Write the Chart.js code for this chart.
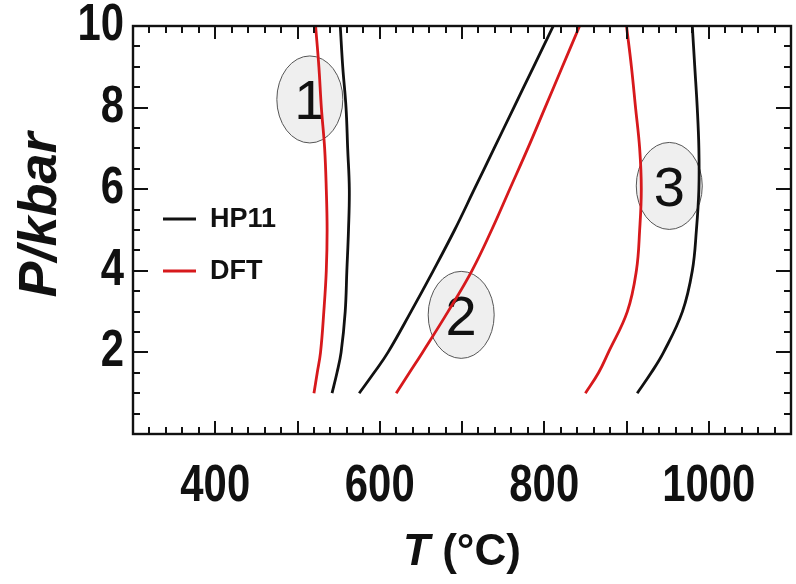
<!DOCTYPE html>
<html>
<head>
<meta charset="utf-8">
<script src="https://cdn.jsdelivr.net/npm/chart.js@4.4.0/dist/chart.umd.min.js"></script>
<style>
  body { margin: 0; background: #fff; }
  canvas { display: block; }
</style>
</head>
<body>
<canvas id="myChart" width="796" height="584"></canvas>
<script>
// pressure (kbar) at which each curve was read
const pressures = [1, 1.5, 2, 3, 4, 5, 6, 7, 8, 9, 10];

// temperature (°C) of each reaction curve
const hp11_1 = [542, 548, 553, 558, 560, 562, 563, 561, 559, 555, 552];
const dft_1 = [520, 524, 528, 532, 535, 536, 535, 533, 529, 526, 522];
const hp11_2 = [575, 593, 610, 638, 665, 691, 715, 739, 763, 787, 811];
const dft_2 = [620, 636, 652, 683, 712, 736, 758, 780, 801, 822, 843];
const hp11_3 = [913, 930, 945, 968, 980, 985, 988, 988, 986, 983, 980];
const dft_3 = [850, 866, 878, 901, 912, 916, 918, 916, 911, 906, 900];

const xTickLabels = [400, 600, 800, 1000];
const yTickLabels = [2, 4, 6, 8, 10];

// numbered reaction labels (T, P)
const markerNames = ['1', '2', '3'];
const markerT = [515, 699, 952];
const markerP = [8.2, 2.92, 6.08];

const SANS = '"Liberation Sans", Arial, sans-serif';
const RED = '#d7191c';
const INK = '#111';

function pts(temps) {
    return temps.map((t, i) => ({ x: t, y: pressures[i] }));
}

function curve(temps, color, label) {
    return {
        label: label,
        data: pts(temps),
        showLine: true,
        borderColor: color,
        backgroundColor: color,
        borderWidth: 2.8,
        pointRadius: 0,
        tension: 0.4
    };
}

// condensed bold text (the figure uses a narrow face)
function narrowText(c, text, x, y, size, align) {
    const sx = 0.82;
    c.save();
    c.font = 'bold ' + size + 'px ' + SANS;
    const w = c.measureText(text).width * sx;
    let left = x;
    if (align === 'center') left = x - w / 2;
    if (align === 'right') left = x - w;
    c.translate(left, y);
    c.scale(sx, 1);
    c.textAlign = 'left';
    c.textBaseline = 'middle';
    c.fillText(text, 0, 0);
    c.restore();
}

const frame = {
    id: 'frame',
    beforeDatasetsDraw(chart) {
        const c = chart.ctx;
        const xs = chart.scales.x, ys = chart.scales.y;
        c.save();
        for (let i = 0; i < markerNames.length; i++) {
            const cx = xs.getPixelForValue(markerT[i]);
            const cy = ys.getPixelForValue(markerP[i]);
            c.beginPath();
            c.ellipse(cx, cy, 33, 43.5, 0, 0, Math.PI * 2);
            c.fillStyle = '#efefef';
            c.fill();
            c.lineWidth = 1;
            c.strokeStyle = '#555';
            c.stroke();
            c.fillStyle = INK;
            c.font = '56px ' + SANS;
            c.textAlign = 'center';
            c.textBaseline = 'alphabetic';
            c.fillText(markerNames[i], cx, cy + 20);
        }
        c.restore();
    },
    afterDraw(chart) {
        const c = chart.ctx;
        const a = chart.chartArea;
        const xs = chart.scales.x, ys = chart.scales.y;
        c.save();
        c.strokeStyle = INK;
        c.lineWidth = 2;
        c.beginPath();
        for (let t = 300; t <= 1100; t += 20) {
            const x = Math.round(xs.getPixelForValue(t));
            const len = t % 100 === 0 ? 13 : 7;
            c.moveTo(x, a.bottom); c.lineTo(x, a.bottom - len);
            c.moveTo(x, a.top); c.lineTo(x, a.top + len);
        }
        for (let p = 0; p <= 10; p += 0.5) {
            const y = Math.round(ys.getPixelForValue(p));
            const len = p % 2 === 0 ? 15 : 7;
            c.moveTo(a.left, y); c.lineTo(a.left + len, y);
            c.moveTo(a.right, y); c.lineTo(a.right - len, y);
        }
        c.stroke();
        c.lineWidth = 2.4;
        c.strokeRect(a.left, a.top, a.right - a.left, a.bottom - a.top);

        // tick labels
        c.fillStyle = INK;
        xTickLabels.forEach(v => narrowText(c, String(v), xs.getPixelForValue(v), 487, 51, 'center'));
        yTickLabels.forEach(v => narrowText(c, String(v), a.left - 9, ys.getPixelForValue(v), 51, 'right'));

        // legend
        const items = [['HP11', INK], ['DFT', RED]];
        items.forEach((it, i) => {
            const y = 219 + i * 52;
            c.strokeStyle = it[1];
            c.lineWidth = 2.8;
            c.beginPath();
            c.moveTo(163, y); c.lineTo(196, y);
            c.stroke();
            c.fillStyle = INK;
            c.font = 'bold 27px ' + SANS;
            c.textAlign = 'left';
            c.textBaseline = 'middle';
            c.fillText(it[0], 210, y + 1);
        });

        // x axis title: italic T, upright (°C)
        c.fillStyle = INK;
        c.textBaseline = 'alphabetic';
        c.textAlign = 'left';
        c.font = 'italic bold 44px ' + SANS;
        const w1 = c.measureText('T ').width;
        c.font = 'bold 44px ' + SANS;
        const w2 = c.measureText('(°C)').width;
        const x0 = (a.left + a.right) / 2 - (w1 + w2) / 2;
        c.font = 'italic bold 44px ' + SANS;
        c.fillText('T ', x0, 565);
        c.font = 'bold 44px ' + SANS;
        c.fillText('(°C)', x0 + w1, 565);

        // y axis title
        c.translate(41, 215);
        c.rotate(-Math.PI / 2);
        c.font = 'italic bold 54px ' + SANS;
        c.textAlign = 'center';
        c.textBaseline = 'middle';
        c.fillText('P/kbar', 0, 0);
        c.restore();
    }
};

new Chart(document.getElementById('myChart'), {
    type: 'scatter',
    data: {
        datasets: [
            curve(hp11_1, INK, 'HP11'),
            curve(dft_1, RED, 'DFT'),
            curve(hp11_2, INK, 'HP11'),
            curve(dft_2, RED, 'DFT'),
            curve(hp11_3, INK, 'HP11'),
            curve(dft_3, RED, 'DFT')
        ]
    },
    options: {
        responsive: false,
        animation: false,
        layout: { padding: { top: 26, right: 5, left: 0, bottom: 0 } },
        plugins: {
            legend: { display: false },
            tooltip: { enabled: false }
        },
        scales: {
            x: {
                type: 'linear',
                min: 300,
                max: 1100,
                grid: { display: false },
                border: { display: false },
                ticks: { display: false },
                afterFit: s => { s.height = 150; }
            },
            y: {
                type: 'linear',
                min: 0,
                max: 10,
                grid: { display: false },
                border: { display: false },
                ticks: { display: false },
                afterFit: s => { s.width = 133; }
            }
        }
    },
    plugins: [frame]
});
</script>
</body>
</html>
